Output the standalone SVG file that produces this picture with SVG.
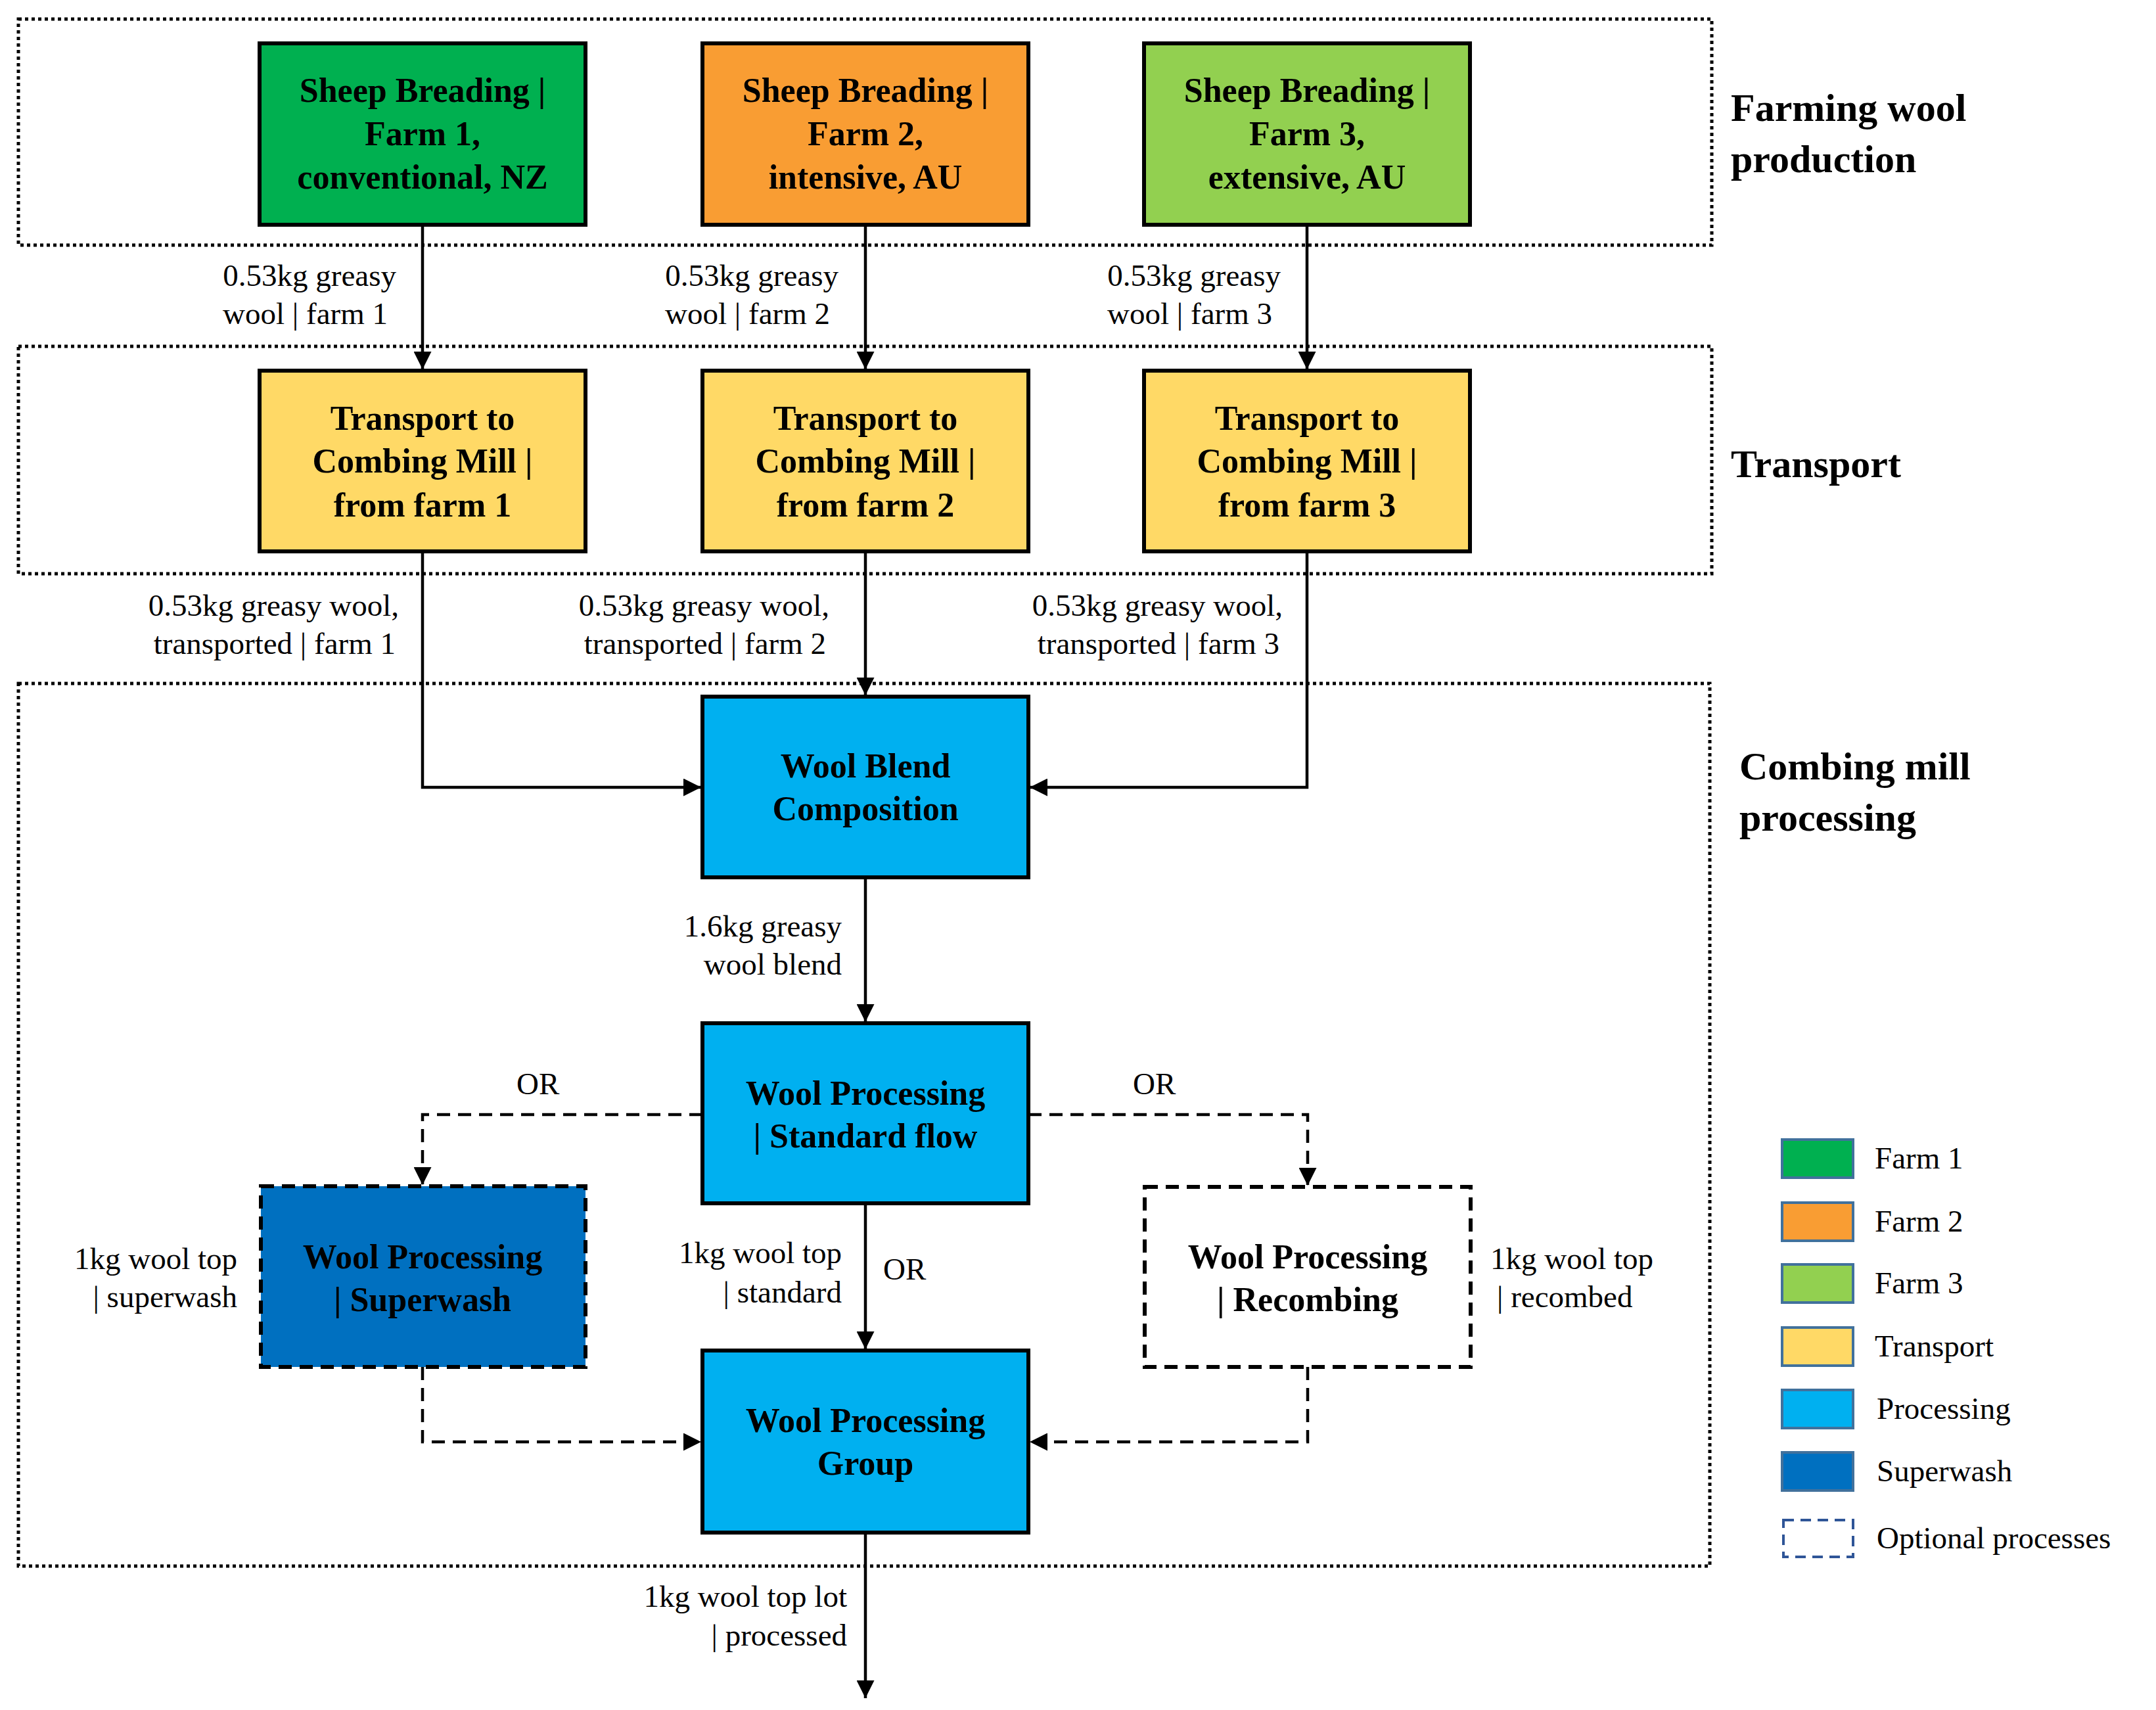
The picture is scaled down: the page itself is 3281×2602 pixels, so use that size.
<svg xmlns="http://www.w3.org/2000/svg" width="3281" height="2602" viewBox="0 0 3281 2602">
<style>
.grp{fill:none;stroke:#000;stroke-width:5;stroke-dasharray:5 5}
.box{stroke:#000;stroke-width:6}
.bt{font-family:"Liberation Serif",serif;font-weight:bold;font-size:52px;text-anchor:middle}
.lb{font-family:"Liberation Serif",serif;font-size:47px}
.tt{font-family:"Liberation Serif",serif;font-weight:bold;font-size:60px}
.ln{fill:none;stroke:#000;stroke-width:4.5}
.ds{stroke-dasharray:20 12}
.sw{stroke:#41719C;stroke-width:4}
</style>
<defs>
<marker id="ah" viewBox="0 0 10 10" refX="10" refY="5" markerWidth="6" markerHeight="6" markerUnits="strokeWidth" orient="auto"><path d="M0,0L10,5L0,10z" fill="#000"/></marker>
</defs>
<rect width="3281" height="2602" fill="#fff"/>
<g id="groups">
<rect class="grp" x="28" y="29" width="2577" height="344"/>
<rect class="grp" x="28" y="527" width="2577" height="346"/>
<rect class="grp" x="28" y="1040" width="2574" height="1343"/>
<text class="tt" x="2634" y="184">Farming wool</text>
<text class="tt" x="2634" y="262">production</text>
<text class="tt" x="2634" y="726">Transport</text>
<text class="tt" x="2647" y="1186">Combing mill</text>
<text class="tt" x="2647" y="1264">processing</text>
</g>
<g id="connectors">
<line class="ln" x1="643" y1="342" x2="643" y2="562" marker-end="url(#ah)"/>
<line class="ln" x1="1317" y1="342" x2="1317" y2="562" marker-end="url(#ah)"/>
<line class="ln" x1="1989" y1="342" x2="1989" y2="562" marker-end="url(#ah)"/>
<path class="ln" d="M643,839V1198H1067" marker-end="url(#ah)"/>
<line class="ln" x1="1317" y1="839" x2="1317" y2="1058" marker-end="url(#ah)"/>
<path class="ln" d="M1989,839V1198H1567" marker-end="url(#ah)"/>
<line class="ln" x1="1317" y1="1335" x2="1317" y2="1555" marker-end="url(#ah)"/>
<line class="ln" x1="1317" y1="1831" x2="1317" y2="2053" marker-end="url(#ah)"/>
<path class="ln ds" d="M1069,1696H643V1803" marker-end="url(#ah)"/>
<path class="ln ds" d="M1565,1696H1990V1804" marker-end="url(#ah)"/>
<path class="ln ds" d="M643,2080V2194H1067" marker-end="url(#ah)"/>
<path class="ln ds" d="M1990,2080V2194H1567" marker-end="url(#ah)"/>
<line class="ln" x1="1317" y1="2332" x2="1317" y2="2584" marker-end="url(#ah)"/>
<g class="lb" text-anchor="end">
<text x="603" y="435">0.53kg greasy</text><text x="590" y="493">wool | farm 1</text>
<text x="1276" y="435">0.53kg greasy</text><text x="1263" y="493">wool | farm 2</text>
<text x="1949" y="435">0.53kg greasy</text><text x="1936" y="493">wool | farm 3</text>
<text x="607" y="937">0.53kg greasy wool,</text><text x="602" y="995">transported | farm 1</text>
<text x="1262" y="937">0.53kg greasy wool,</text><text x="1257" y="995">transported | farm 2</text>
<text x="1952" y="937">0.53kg greasy wool,</text><text x="1947" y="995">transported | farm 3</text>
<text x="1281" y="1425">1.6kg greasy</text><text x="1281" y="1483">wool blend</text>
<text x="361" y="1931">1kg wool top</text><text x="361" y="1989">| superwash</text>
<text x="1281" y="1922">1kg wool top</text><text x="1281" y="1982">| standard</text>
<text x="1289" y="2445">1kg wool top lot</text><text x="1289" y="2504">| processed</text>
</g>
<g class="lb">
<text x="786" y="1665">OR</text>
<text x="1724" y="1665">OR</text>
<text x="1344" y="1947">OR</text>
<text x="2268" y="1931">1kg wool top</text><text x="2278" y="1989">| recombed</text>
</g>
</g>
<g id="farm1"><rect class="box" x="395" y="66" width="496" height="276" fill="#00B050"/>
<text class="bt" x="643" y="155">Sheep Breading |</text><text class="bt" x="643" y="221">Farm 1,</text><text class="bt" x="643" y="287">conventional, NZ</text></g>
<g id="farm2"><rect class="box" x="1069" y="66" width="496" height="276" fill="#F99D33"/>
<text class="bt" x="1317" y="155">Sheep Breading |</text><text class="bt" x="1317" y="221">Farm 2,</text><text class="bt" x="1317" y="287">intensive, AU</text></g>
<g id="farm3"><rect class="box" x="1741" y="66" width="496" height="276" fill="#92D050"/>
<text class="bt" x="1989" y="155">Sheep Breading |</text><text class="bt" x="1989" y="221">Farm 3,</text><text class="bt" x="1989" y="287">extensive, AU</text></g>
<g id="transport1"><rect class="box" x="395" y="564" width="496" height="275" fill="#FFD966"/>
<text class="bt" x="643" y="654">Transport to</text><text class="bt" x="643" y="719">Combing Mill |</text><text class="bt" x="643" y="786">from farm 1</text></g>
<g id="transport2"><rect class="box" x="1069" y="564" width="496" height="275" fill="#FFD966"/>
<text class="bt" x="1317" y="654">Transport to</text><text class="bt" x="1317" y="719">Combing Mill |</text><text class="bt" x="1317" y="786">from farm 2</text></g>
<g id="transport3"><rect class="box" x="1741" y="564" width="496" height="275" fill="#FFD966"/>
<text class="bt" x="1989" y="654">Transport to</text><text class="bt" x="1989" y="719">Combing Mill |</text><text class="bt" x="1989" y="786">from farm 3</text></g>
<g id="blend"><rect class="box" x="1069" y="1060" width="496" height="275" fill="#00B0F0"/>
<text class="bt" x="1317" y="1183">Wool Blend</text><text class="bt" x="1317" y="1248">Composition</text></g>
<g id="standard"><rect class="box" x="1069" y="1557" width="496" height="274" fill="#00B0F0"/>
<text class="bt" x="1317" y="1681">Wool Processing</text><text class="bt" x="1317" y="1746">| Standard flow</text></g>
<g id="superwash"><rect class="box ds" x="397" y="1805" width="494" height="275" fill="#0070C0"/>
<text class="bt" x="643" y="1930">Wool Processing</text><text class="bt" x="643" y="1995">| Superwash</text></g>
<g id="recombing"><rect class="box ds" x="1742" y="1806" width="496" height="274" fill="#fff"/>
<text class="bt" x="1990" y="1930">Wool Processing</text><text class="bt" x="1990" y="1995">| Recombing</text></g>
<g id="group"><rect class="box" x="1069" y="2055" width="496" height="277" fill="#00B0F0"/>
<text class="bt" x="1317" y="2179">Wool Processing</text><text class="bt" x="1317" y="2244">Group</text></g>
<g id="legend">
<rect class="sw" x="2712" y="1734" width="108" height="58" fill="#00B050"/>
<rect class="sw" x="2712" y="1830" width="108" height="58" fill="#F99D33"/>
<rect class="sw" x="2712" y="1924" width="108" height="58" fill="#92D050"/>
<rect class="sw" x="2712" y="2020" width="108" height="58" fill="#FFD966"/>
<rect class="sw" x="2712" y="2115" width="108" height="58" fill="#00B0F0"/>
<rect class="sw" x="2712" y="2210" width="108" height="58" fill="#0070C0"/>
<rect x="2714" y="2313" width="106" height="56" fill="none" stroke="#2F5597" stroke-width="4" stroke-dasharray="16 10"/>
<g class="lb">
<text x="2853" y="1778">Farm 1</text><text x="2853" y="1874">Farm 2</text><text x="2853" y="1968">Farm 3</text>
<text x="2853" y="2064">Transport</text><text x="2856" y="2159">Processing</text><text x="2856" y="2254">Superwash</text>
<text x="2856" y="2356">Optional processes</text>
</g>
</g>
</svg>
